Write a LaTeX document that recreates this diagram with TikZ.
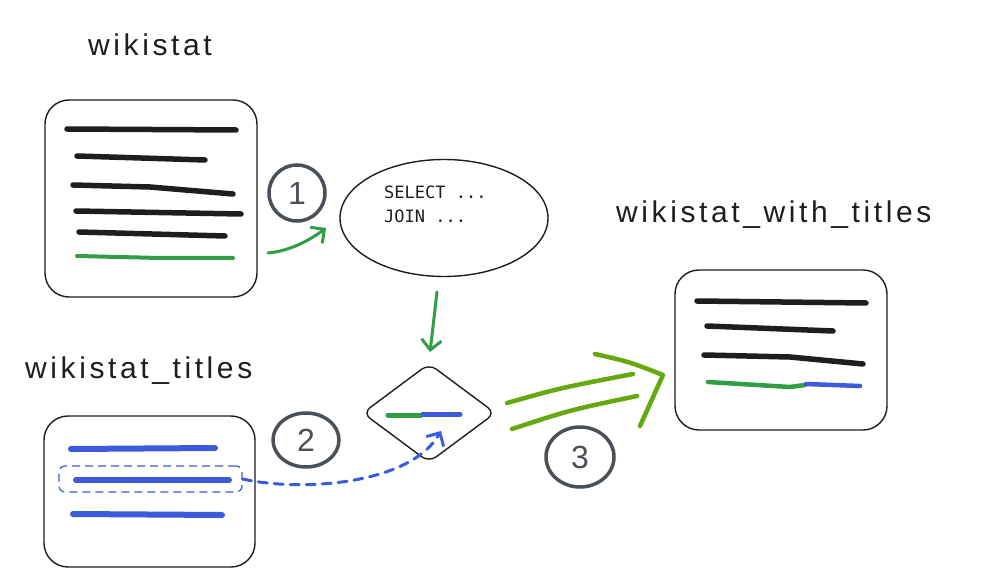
\documentclass[tikz,border=0pt]{standalone}
\usepackage{fontspec}
\setmainfont{Liberation Sans}
\newfontfamily\monofont{DejaVu Sans Mono}
\newfontfamily\titlefont[LetterSpace=12]{Liberation Sans}
\usetikzlibrary{shapes.geometric,arrows.meta}
\definecolor{ink}{HTML}{1E1E1E}
\definecolor{xgreen}{HTML}{2F9E44}
\definecolor{xblue}{HTML}{3B5BDB}
\definecolor{xlime}{HTML}{66A80F}
\definecolor{xgray}{HTML}{495057}
\tikzset{
  tbox/.style={draw=ink, line width=1.4pt, rounded corners=24pt, minimum width=#1, inner sep=0pt},
  title/.style={anchor=base west, inner sep=0pt, font=\titlefont\fontsize{30}{34}\selectfont, text=ink},
  numcircle/.style={draw=xgray, line width=3.5pt, ellipse, inner sep=0pt, text=xgray, font=\fontsize{32}{34}\selectfont},
  bar/.style={line width=5.5pt, line cap=round, line join=round},
  harrow/.style={line width=3pt, line cap=round, -{Straight Barb[length=10pt,width=20pt,line width=3pt]}},
}
\begin{document}
\begin{tikzpicture}[x=1pt,y=-1pt]
\useasboundingbox[fill=white] (0,0) rectangle (993,577);

% titles
\node[title] (t1) at (88,56) {wikistat};
\node[title] (t2) at (25,378) {wikistat\_titles};
\node[title] (t3) at (616,223) {wikistat\_with\_titles};

% box 1
\node[tbox=212pt, minimum height=197pt] (b1) at (151,198.5) {};
\draw[bar, ink] (67,129) -- (236,130);
\draw[bar, ink] (77,156) -- (205,160);
\draw[bar, ink] (73,185) -- (150,187) -- (233,194);
\draw[bar, ink] (76,211) -- (241,214);
\draw[bar, ink] (79,232) -- (225,236);
\draw[bar, xgreen, line width=4pt] (77,256) -- (160,258) -- (233,258);

% box 2
\node[tbox=211pt, minimum height=151pt] (b2) at (149.5,491.5) {};
\draw[bar, xblue, line width=6pt] (71,449) -- (215,448);
\draw[bar, xblue, line width=6pt] (76,480) -- (229,480);
\draw[bar, xblue, line width=6pt] (73,514) -- (222,515);
\node[draw=xblue, dash pattern=on 8pt off 5pt, line width=1.2pt, rounded corners=6pt, minimum width=183pt, minimum height=26pt, inner sep=0pt] (sel) at (150.5,479) {};

% box 3
\node[tbox=212pt, minimum height=160pt] (b3) at (781,350) {};
\draw[bar, ink] (697,301) -- (866,303);
\draw[bar, ink] (707,326) -- (833,331);
\draw[bar, ink] (704,355) -- (790,357) -- (863,364);
\draw[bar, xgreen, line width=4.5pt] (708,382) -- (790,387) -- (805,385);
\draw[bar, xblue, line width=4.5pt] (806,384) -- (860,386);

% numbered circles
\node[numcircle, minimum width=56pt, minimum height=56pt] (c1) at (297,193) {1};
\node[numcircle, minimum width=66pt, minimum height=54pt] (c2) at (306,440) {2};
\node[numcircle, minimum width=68pt, minimum height=60pt] (c3) at (580,457) {3};

% ellipse with SQL
\node[draw=ink, line width=1.4pt, ellipse, minimum width=208pt, minimum height=117pt, inner sep=0pt] (q) at (444,218) {};
\node[align=left, inner sep=0pt, anchor=west, font=\monofont\fontsize{17}{24}\selectfont, text=ink] (sql) at (384,204.5) {SELECT ...\\JOIN ...};

% diamond
\node[draw=ink, line width=1.4pt, diamond, rounded corners=9pt, minimum width=133pt, minimum height=99pt, inner sep=0pt] (d) at (429,413) {};
\draw[bar, xgreen, line width=5pt] (388,415) -- (421,415);
\draw[bar, xblue, line width=5pt] (423,414) -- (460,414);

% connectors
\coordinate (a1s) at (268,253);
\coordinate (a1e) at (326,228);
\draw[harrow, xgreen] (a1s) .. controls (290,251) and (310,240) .. (a1e);

\coordinate (a2s) at (437,292);
\coordinate (a2e) at (430,352);
\draw[harrow, xgreen] (a2s) .. controls (434,320) .. (a2e);

\coordinate (a3e) at (441,431);
\draw[xblue, line width=3pt, dash pattern=on 9pt off 7pt, line cap=round,
  -{Straight Barb[length=10pt,width=20pt,line width=3pt]}]
  (sel.east) .. controls (300,492) and (410,485) .. (a3e);

% big lime arrow
\coordinate (tip) at (663,375);
\draw[xlime, line width=4.5pt, line cap=round] (507,403) .. controls (560,388) .. (633,374);
\draw[xlime, line width=4.5pt, line cap=round] (512,429) .. controls (570,410) .. (637,396);
\draw[xlime, line width=4.5pt, line cap=round, line join=round] (595,354) .. controls (630,362) .. (tip) -- (640,426);
\end{tikzpicture}
\end{document}
